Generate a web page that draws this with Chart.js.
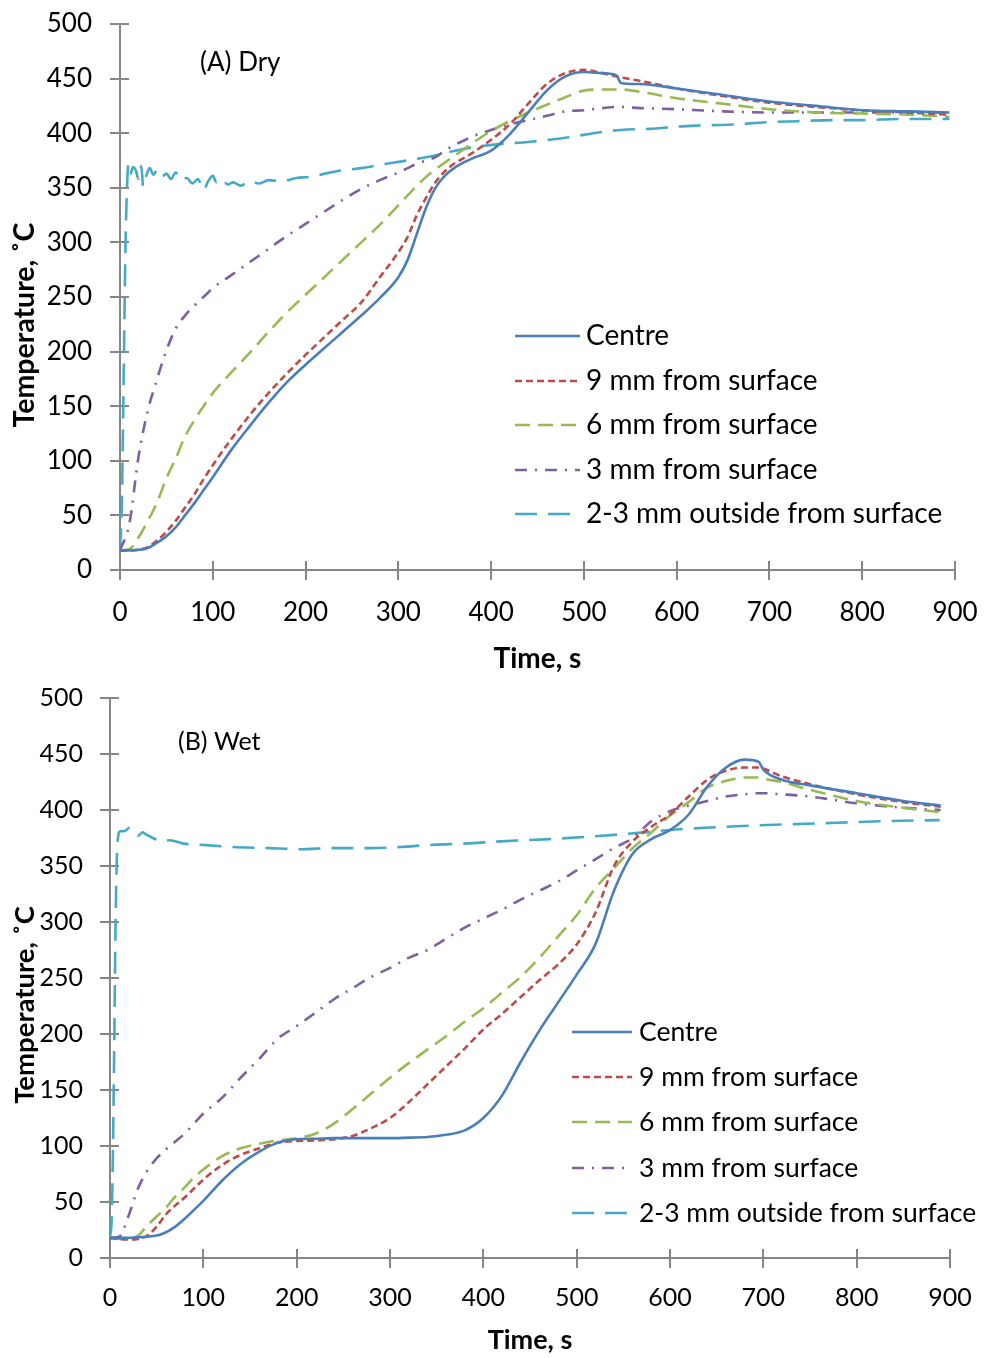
<!DOCTYPE html>
<html>
<head>
<meta charset="utf-8">
<script src="https://cdn.jsdelivr.net/npm/chart.js@4.4.0/dist/chart.umd.min.js"></script>
<style>
body { margin: 0; background: #fff; }
#wrap { position: relative; width: 984px; height: 1358px; }
canvas { position: absolute; left: 0; }
</style>
</head>
<body>
<div id="wrap">
  <canvas id="dryChart" width="984" height="680" style="top:0"></canvas>
  <canvas id="wetChart" width="984" height="678" style="top:680px"></canvas>
</div>
<script>
// ---- data ----
const xTickValues = [0, 100, 200, 300, 400, 500, 600, 700, 800, 900];
const yTickValues = [0, 50, 100, 150, 200, 250, 300, 350, 400, 450, 500];
const seriesLabels = ['Centre', '9 mm from surface', '6 mm from surface', '3 mm from surface', '2-3 mm outside from surface'];

// (A) Dry
const dryTime = [0,10,20,30,40,50,60,70,80,90,100,120,140,160,180,200,220,240,260,280,300,310,320,330,340,350,360,370,380,400,420,440,460,480,500,520,535,540,560,600,650,700,750,800,850,894];
const dryCentre = [18,18,18.5,20,25,31,39,50,61,73,85,110,132,153,172,188,203,218,233,249,268,284,308,332,350,361,368,373,377,384,399,419,439,452,456,455,453,446,445,441,435,429,425,421,420,419];
const dry9mm = [18,18,18.5,21,27,35,45,57,69,83,96,120,142,162,180,197,213,229,245,268,291,305,325,341,355,365,372,377,382,394,408,427,445,455,458,455,452,451,448,441,434,428,424,421,419,417];
const dry6mm = [18,19,30,45,62,84,102,122,137,150,162,181,199,218,236,252,268,284,300,316,334,343,352,360,367,373,379,385,391,402,411,419,426,433,439,440,440,440,438,432,427,422,419,418,417,415];
const dry3mm = [18,42,104,146,175,201,221,233,242,250,258,270,282,294,306,317,328,339,349,357,364,368,372,375,378,384,389,393,397,403,408,412,416,420,421,423,424,424,423,422,420,419,419,419,419,419];
const dryOutsideTime = [0,2,4,6,8,9,11,14,17,20,23,25,28,32,36,40,45,50,55,60,66,72,78,84,90,95,100,104,110,116,122,130,140,150,160,175,190,205,221,240,260,280,302,330,356,380,409,440,463,490,510,540,571,600,625,660,697,730,768,800,840,894];
const dryOutside = [18,60,180,300,360,371,362,369,366,358,370,351,360,368,362,366,360,363,358,364,357,359,354,358,348,356,361,355,358,353,355,352,356,354,357,356,359,360,363,366,368,371,374,378,383,387,390,392,394,397,400,403,404,406,407,408,410,411,412,412,413,413];

// (B) Wet
const wetTime = [0,10,20,30,40,50,60,70,80,90,100,120,140,160,180,200,220,240,260,280,300,320,340,360,380,400,420,440,460,480,500,520,540,560,580,600,620,640,660,680,695,700,720,750,800,850,890];
const wetCentre = [18,18,18,18.5,19,20,23,28,35,43,51,69,84,95,103,106,106.5,107,107,107,107,107.5,108,110,114,125,145,175,203,228,253,280,328,361,374,382,396,421,438,445,443,436,427,422,415,408,404];
const wet9mm = [18,17,16.5,17,20,28,39,47,54,62,70,83,92,98,103,104.5,105,106,109,116,125,139,155,171,187,204,218,233,248,262,280,308,350,372,385,396,412,427,435,438,438,437,430,423,414,407,403];
const wet6mm = [18,17,17,20,29,37,45,55,63,72,79,91,98,102,105,107,111,120,133,147,161,174,186,198,211,223,237,251,268,287,306,330,348,366,380,395,407,420,426,429,429,428,425,418,408,402,398];
const wet3mm = [18,19,38,62,78,89,97,104,111,120,129,143,161,178,196,207,219,231,241,251,259,268,275,285,295,303,311,320,328,336,346,356,366,375,390,399,404,408,412,414,415,415,414,412,406,402,400];
const wetOutsideTime = [0,2,4,6,8,11,15,21,25,30,35,39,46,55,64,79,96,132,170,204,239,280,311,346,380,418,471,543,614,686,757,829,889];
const wetOutside = [18,40,150,300,370,381,381,384,380,377,380,378,375,372,373,370,369,367,366,365,366,366,367,369,370,372,374,378,383,386,388,390,391];

// ---- styles ----
const fontFamily = "Lato, 'Open Sans', sans-serif";
const axisColor = '#868686';
const seriesColors = ['#4a7ebb', '#be4b48', '#98b954', '#7d60a0', '#46aac5'];
const seriesDash = [[], [7, 4], [15, 8], [12, 8, 2, 8], [22, 11]];

Chart.defaults.font.family = fontFamily;
Chart.defaults.color = '#000';

function pairs(t, v) {
  return t.map((x, i) => ({ x: x, y: v[i] }));
}

function makeDatasets(time, centre, s9, s6, s3, outT, out) {
  const series = [pairs(time, centre), pairs(time, s9), pairs(time, s6), pairs(time, s3), pairs(outT, out)];
  return series.map((d, i) => ({
    label: seriesLabels[i],
    data: d,
    borderColor: seriesColors[i],
    borderWidth: 2.6,
    borderDash: seriesDash[i],
    pointRadius: 0,
    fill: false,
    cubicInterpolationMode: 'monotone'
  }));
}

// ticks that cross the axis line (inner half)
const crossTicks = {
  id: 'crossTicks',
  beforeDatasetsDraw(chart, args, opts) {
    const { ctx, chartArea } = chart;
    const xs = chart.scales.x, ys = chart.scales.y;
    ctx.save();
    ctx.strokeStyle = axisColor;
    ctx.lineWidth = 2;
    ctx.beginPath();
    ys.ticks.forEach(t => {
      const p = Math.round(ys.getPixelForValue(t.value));
      ctx.moveTo(chartArea.left, p);
      ctx.lineTo(chartArea.left + opts.length, p);
    });
    xs.ticks.forEach(t => {
      const p = Math.round(xs.getPixelForValue(t.value));
      ctx.moveTo(p, chartArea.bottom);
      ctx.lineTo(p, chartArea.bottom - opts.length);
    });
    ctx.stroke();
    ctx.restore();
  }
};

// panel label, y title and in-plot legend
const panelDecor = {
  id: 'panelDecor',
  afterDraw(chart, args, o) {
    const ctx = chart.ctx;
    ctx.save();
    ctx.fillStyle = '#000';
    ctx.textBaseline = 'middle';
    ctx.textAlign = 'left';
    ctx.font = o.labelSize + 'px ' + fontFamily;
    ctx.fillText(o.label, o.labelX, o.labelY);

    ctx.save();
    ctx.translate(o.yTitleX, o.yTitleY);
    ctx.rotate(-Math.PI / 2);
    ctx.textAlign = 'center';
    ctx.font = 'bold ' + o.titleSize + 'px ' + fontFamily;
    ctx.fillText('Temperature, ˚C', 0, 0);
    ctx.restore();

    chart.data.datasets.forEach((ds, i) => {
      const y = o.legendY[i];
      ctx.beginPath();
      ctx.strokeStyle = ds.borderColor;
      ctx.lineWidth = ds.borderWidth;
      ctx.setLineDash(ds.borderDash);
      ctx.moveTo(o.legendX, y);
      ctx.lineTo(o.legendX + o.legendLen, y);
      ctx.stroke();
      ctx.setLineDash([]);
      ctx.font = o.legendSize + 'px ' + fontFamily;
      ctx.fillText(ds.label, o.legendTextX, y);
    });
    ctx.restore();
  }
};

function buildChart(id, datasets, L) {
  const ctx = document.getElementById(id).getContext('2d');
  return new Chart(ctx, {
    type: 'line',
    data: { datasets: datasets },
    plugins: [crossTicks, panelDecor],
    options: {
      responsive: false,
      animation: false,
      devicePixelRatio: 1,
      layout: { padding: { top: L.top, right: L.right, left: 0, bottom: 0 } },
      plugins: {
        legend: { display: false },
        tooltip: { enabled: false },
        crossTicks: { length: 9 },
        panelDecor: L.decor
      },
      scales: {
        x: {
          type: 'linear',
          min: 0,
          max: 900,
          afterBuildTicks: s => { s.ticks = xTickValues.map(v => ({ value: v })); },
          afterFit: s => { s.height = L.xHeight; s.paddingLeft = 0; s.paddingRight = 0; },
          grid: { drawOnChartArea: false, color: axisColor, lineWidth: 2, tickLength: 10 },
          border: { color: axisColor, width: 2 },
          ticks: { font: { size: L.tickSize }, padding: L.xPad, color: '#000', maxRotation: 0 },
          title: { display: true, text: 'Time, s', font: { size: L.titleSize, weight: 'bold' }, padding: { top: 0, bottom: L.titlePad }, color: '#000' }
        },
        y: {
          min: 0,
          max: 500,
          afterBuildTicks: s => { s.ticks = yTickValues.map(v => ({ value: v })); },
          afterFit: s => { s.width = L.left; s.paddingTop = 0; s.paddingBottom = 0; },
          grid: { drawOnChartArea: false, color: axisColor, lineWidth: 2, tickLength: 10 },
          border: { color: axisColor, width: 2 },
          ticks: { font: { size: L.tickSize }, padding: L.yPad, color: '#000' }
        }
      }
    }
  });
}

buildChart('dryChart',
  makeDatasets(dryTime, dryCentre, dry9mm, dry6mm, dry3mm, dryOutsideTime, dryOutside),
  { top: 24, right: 29, left: 120, xHeight: 110, tickSize: 26, titleSize: 28, titlePad: 4, xPad: 17, yPad: 18,
    decor: { label: '(A) Dry', labelX: 200, labelY: 63, labelSize: 26, yTitleX: 25, yTitleY: 325, titleSize: 28.5,
             legendX: 515, legendLen: 65, legendTextX: 586, legendY: [336, 381, 425, 470, 514], legendSize: 28 } });

buildChart('wetChart',
  makeDatasets(wetTime, wetCentre, wet9mm, wet6mm, wet3mm, wetOutsideTime, wetOutside),
  { top: 18, right: 34, left: 110, xHeight: 100, tickSize: 25, titleSize: 27, titlePad: 2, xPad: 15, yPad: 17,
    decor: { label: '(B) Wet', labelX: 178, labelY: 62, labelSize: 25, yTitleX: 25, yTitleY: 325, titleSize: 27.5,
             legendX: 572, legendLen: 60, legendTextX: 639, legendY: [352, 397, 442, 488, 533], legendSize: 26.5 } });
</script>
</body>
</html>
